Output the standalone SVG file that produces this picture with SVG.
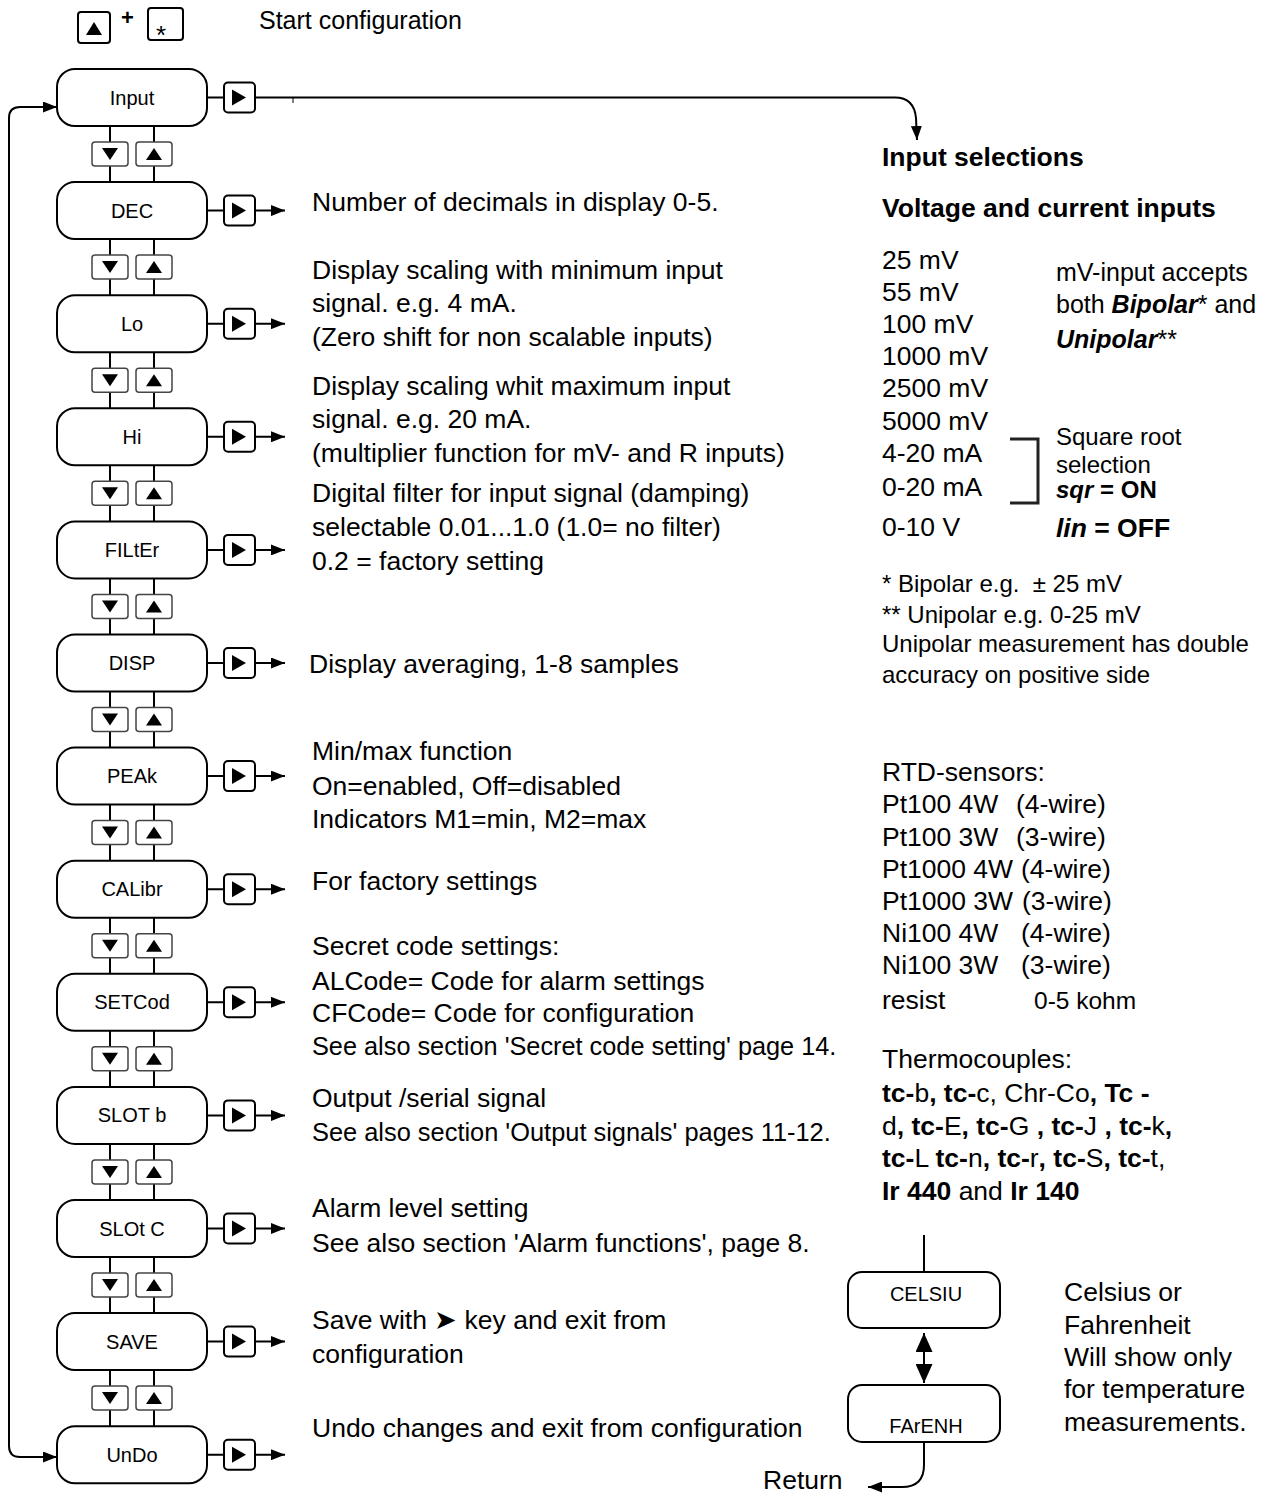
<svg xmlns="http://www.w3.org/2000/svg" xmlns:xlink="http://www.w3.org/1999/xlink" width="1261" height="1493" viewBox="0 0 1261 1493">
<style>
text{font-family:"Liberation Sans",Arial,sans-serif;fill:#000}
.t{font-size:26.5px}
.m{font-size:25px}
.s{font-size:24px}
.h{font-size:26.5px;font-weight:bold}
.n{font-size:20px;text-anchor:middle}
.b{font-weight:bold}
.bi{font-weight:bold;font-style:italic}
.box{fill:#fff;stroke:#000;stroke-width:2}
.ln{fill:none;stroke:#000;stroke-width:2}
.key{fill:#fff;stroke:#444;stroke-width:1.5}
.rk{fill:#fff;stroke:#000;stroke-width:2}
</style>
<defs>
<marker id="ah" markerUnits="userSpaceOnUse" markerWidth="14" markerHeight="11" refX="14" refY="5.5" orient="auto"><path d="M0,0 L14,5.5 L0,11 z" fill="#000"/></marker>
<marker id="ahb" markerUnits="userSpaceOnUse" markerWidth="19" markerHeight="17" refX="19" refY="8.5" orient="auto-start-reverse"><path d="M0,0 L19,8.5 L0,17 z" fill="#000"/></marker>
<g id="kd"><rect class="key" x="-18" y="-12" width="36" height="24" rx="3"/><polygon points="-8,-6 8,-6 0,6" fill="#000"/></g>
<g id="ku"><rect class="key" x="-18" y="-12" width="36" height="24" rx="3"/><polygon points="-8,6 8,6 0,-6" fill="#000"/></g>
<g id="kr"><rect class="rk" x="0" y="-15" width="31" height="30" rx="4"/><polygon points="8,-8 8,8 22,0" fill="#000"/></g>
</defs>

<g id="start">
<rect class="rk" x="78" y="12" width="32" height="31" rx="3"/>
<polygon points="86,35 102,35 94,22" fill="#000"/>
<text x="121" y="25" style="font-size:22px;font-weight:bold">+</text>
<rect class="rk" x="148" y="8" width="35" height="32" rx="3"/>
<text x="156" y="44" style="font-size:26px">*</text>
<text class="m" x="259" y="29">Start configuration</text>
</g>

<g id="connectors">
<line class="ln" x1="110" y1="126" x2="110" y2="1427"/>
<line class="ln" x1="154" y1="126" x2="154" y2="1427"/>
<path class="ln" d="M9 780 V118 Q9 107 20 107 H57" marker-end="url(#ah)"/>
<path class="ln" d="M9 780 V1446 Q9 1457 20 1457 H57" marker-end="url(#ah)"/>
<path class="ln" d="M207 97.5 H224 M255 97.5 H895 Q914 97.5 916 118 L917 140" marker-end="url(#ah)"/>
<line class="ln" x1="293" y1="97" x2="293" y2="103" style="stroke-width:1"/>
<g id="rightarrows">
<path class="ln" d="M207 210.6 H224 M255 210.6 H285" marker-end="url(#ah)"/>
<path class="ln" d="M207 323.7 H224 M255 323.7 H285" marker-end="url(#ah)"/>
<path class="ln" d="M207 436.8 H224 M255 436.8 H285" marker-end="url(#ah)"/>
<path class="ln" d="M207 549.9 H224 M255 549.9 H285" marker-end="url(#ah)"/>
<path class="ln" d="M207 663 H224 M255 663 H285" marker-end="url(#ah)"/>
<path class="ln" d="M207 776.1 H224 M255 776.1 H285" marker-end="url(#ah)"/>
<path class="ln" d="M207 889.2 H224 M255 889.2 H285" marker-end="url(#ah)"/>
<path class="ln" d="M207 1002.3 H224 M255 1002.3 H285" marker-end="url(#ah)"/>
<path class="ln" d="M207 1115.4 H224 M255 1115.4 H285" marker-end="url(#ah)"/>
<path class="ln" d="M207 1228.5 H224 M255 1228.5 H285" marker-end="url(#ah)"/>
<path class="ln" d="M207 1341.6 H224 M255 1341.6 H285" marker-end="url(#ah)"/>
<path class="ln" d="M207 1454.7 H224 M255 1454.7 H285" marker-end="url(#ah)"/>
</g>
<g id="keys">
<use xlink:href="#kr" x="224" y="97.5"/>
<use xlink:href="#kr" x="224" y="210.6"/>
<use xlink:href="#kr" x="224" y="323.7"/>
<use xlink:href="#kr" x="224" y="436.8"/>
<use xlink:href="#kr" x="224" y="549.9"/>
<use xlink:href="#kr" x="224" y="663"/>
<use xlink:href="#kr" x="224" y="776.1"/>
<use xlink:href="#kr" x="224" y="889.2"/>
<use xlink:href="#kr" x="224" y="1002.3"/>
<use xlink:href="#kr" x="224" y="1115.4"/>
<use xlink:href="#kr" x="224" y="1228.5"/>
<use xlink:href="#kr" x="224" y="1341.6"/>
<use xlink:href="#kr" x="224" y="1454.7"/>
<use xlink:href="#kd" x="110" y="154"/><use xlink:href="#ku" x="154" y="154"/>
<use xlink:href="#kd" x="110" y="267.1"/><use xlink:href="#ku" x="154" y="267.1"/>
<use xlink:href="#kd" x="110" y="380.2"/><use xlink:href="#ku" x="154" y="380.2"/>
<use xlink:href="#kd" x="110" y="493.3"/><use xlink:href="#ku" x="154" y="493.3"/>
<use xlink:href="#kd" x="110" y="606.4"/><use xlink:href="#ku" x="154" y="606.4"/>
<use xlink:href="#kd" x="110" y="719.5"/><use xlink:href="#ku" x="154" y="719.5"/>
<use xlink:href="#kd" x="110" y="832.6"/><use xlink:href="#ku" x="154" y="832.6"/>
<use xlink:href="#kd" x="110" y="945.7"/><use xlink:href="#ku" x="154" y="945.7"/>
<use xlink:href="#kd" x="110" y="1058.8"/><use xlink:href="#ku" x="154" y="1058.8"/>
<use xlink:href="#kd" x="110" y="1171.9"/><use xlink:href="#ku" x="154" y="1171.9"/>
<use xlink:href="#kd" x="110" y="1285"/><use xlink:href="#ku" x="154" y="1285"/>
<use xlink:href="#kd" x="110" y="1398.1"/><use xlink:href="#ku" x="154" y="1398.1"/>
</g>
<path class="ln" d="M924 1235 V1272"/>
<line class="ln" x1="924" y1="1333" x2="924" y2="1383" marker-start="url(#ahb)" marker-end="url(#ahb)"/>
<path class="ln" d="M924 1442 V1465 Q924 1487 902 1487 H868" marker-end="url(#ah)"/>
<path d="M1010 439 H1038 V503 H1010" fill="none" stroke="#222" stroke-width="3"/>
</g>

<g id="n-input"><rect class="box" x="57" y="69" width="150" height="57" rx="18"/><text class="n" x="132" y="104.5">Input</text></g>
<g id="n-dec"><rect class="box" x="57" y="182.1" width="150" height="57" rx="18"/><text class="n" x="132" y="217.6">DEC</text></g>
<g id="n-lo"><rect class="box" x="57" y="295.2" width="150" height="57" rx="18"/><text class="n" x="132" y="330.7">Lo</text></g>
<g id="n-hi"><rect class="box" x="57" y="408.3" width="150" height="57" rx="18"/><text class="n" x="132" y="443.8">Hi</text></g>
<g id="n-filter"><rect class="box" x="57" y="521.4" width="150" height="57" rx="18"/><text class="n" x="132" y="556.9">FILtEr</text></g>
<g id="n-disp"><rect class="box" x="57" y="634.5" width="150" height="57" rx="18"/><text class="n" x="132" y="670">DISP</text></g>
<g id="n-peak"><rect class="box" x="57" y="747.6" width="150" height="57" rx="18"/><text class="n" x="132" y="783.1">PEAk</text></g>
<g id="n-calibr"><rect class="box" x="57" y="860.7" width="150" height="57" rx="18"/><text class="n" x="132" y="896.2">CALibr</text></g>
<g id="n-setcod"><rect class="box" x="57" y="973.8" width="150" height="57" rx="18"/><text class="n" x="132" y="1009.3">SETCod</text></g>
<g id="n-slotb"><rect class="box" x="57" y="1086.9" width="150" height="57" rx="18"/><text class="n" x="132" y="1122.4">SLOT b</text></g>
<g id="n-slotc"><rect class="box" x="57" y="1200" width="150" height="57" rx="18"/><text class="n" x="132" y="1235.5">SLOt C</text></g>
<g id="n-save"><rect class="box" x="57" y="1313.1" width="150" height="57" rx="18"/><text class="n" x="132" y="1348.6">SAVE</text></g>
<g id="n-undo"><rect class="box" x="57" y="1426.2" width="150" height="57" rx="18"/><text class="n" x="132" y="1461.7">UnDo</text></g>
<g id="n-celsiu"><rect class="box" x="848" y="1272" width="152" height="56" rx="14"/><text class="n" x="926" y="1301">CELSIU</text></g>
<g id="n-farenh"><rect class="box" x="848" y="1385" width="152" height="57" rx="14"/><text class="n" x="926" y="1433">FArENH</text></g>

<g id="descriptions">
<text class="t" x="312" y="211">Number of decimals in display 0-5.</text>
<text class="t" x="312" y="279">Display scaling with minimum input</text>
<text class="t" x="312" y="312">signal. e.g. 4 mA.</text>
<text class="t" x="312" y="346">(Zero shift for non scalable inputs)</text>
<text class="t" x="312" y="395">Display scaling whit maximum input</text>
<text class="t" x="312" y="428">signal. e.g. 20 mA.</text>
<text class="t" x="312" y="462">(multiplier function for mV- and R inputs)</text>
<text class="t" x="312" y="502">Digital filter for input signal (damping)</text>
<text class="t" x="312" y="536">selectable 0.01...1.0 (1.0= no filter)</text>
<text class="t" x="312" y="570">0.2 = factory setting</text>
<text class="t" x="309" y="673">Display averaging, 1-8 samples</text>
<text class="t" x="312" y="760">Min/max function</text>
<text class="t" x="312" y="795">On=enabled, Off=disabled</text>
<text class="t" x="312" y="828">Indicators M1=min, M2=max</text>
<text class="t" x="312" y="890">For factory settings</text>
<text class="t" x="312" y="955">Secret code settings:</text>
<text class="t" x="312" y="990">ALCode= Code for alarm settings</text>
<text class="t" x="312" y="1022">CFCode= Code for configuration</text>
<text x="312" y="1055" style="font-size:25.3px">See also section 'Secret code setting' page 14.</text>
<text class="t" x="312" y="1107">Output /serial signal</text>
<text x="312" y="1141" style="font-size:25.4px">See also section 'Output signals' pages 11-12.</text>
<text class="t" x="312" y="1217">Alarm level setting</text>
<text class="t" x="312" y="1252">See also section 'Alarm functions', page 8.</text>
<text class="t" x="312" y="1329">Save with ➤ key and exit from</text>
<text class="t" x="312" y="1363">configuration</text>
<text class="t" x="312" y="1437">Undo changes and exit from configuration</text>
</g>

<g id="inputs">
<text class="h" x="882" y="166">Input selections</text>
<text class="h" x="882" y="217">Voltage and current inputs</text>
<text class="t" x="882" y="269">25 mV</text>
<text class="t" x="882" y="301">55 mV</text>
<text class="t" x="882" y="333">100 mV</text>
<text class="t" x="882" y="365">1000 mV</text>
<text class="t" x="882" y="397">2500 mV</text>
<text class="t" x="882" y="430">5000 mV</text>
<text class="t" x="882" y="462">4-20 mA</text>
<text class="t" x="882" y="496">0-20 mA</text>
<text class="t" x="882" y="536">0-10 V</text>
<text class="m" x="1056" y="281">mV-input accepts</text>
<text class="m" x="1056" y="313">both <tspan class="bi">Bipolar</tspan>* and</text>
<text class="m" x="1056" y="348"><tspan class="bi">Unipolar</tspan>**</text>
<text class="s" x="1056" y="445">Square root</text>
<text class="s" x="1056" y="473">selection</text>
<text class="s b" x="1056" y="498"><tspan class="bi">sqr</tspan> = ON</text>
<text class="t b" x="1056" y="537"><tspan class="bi">lin</tspan> = OFF</text>
<text class="s" x="882" y="592" style="white-space:pre">* Bipolar e.g.  ± 25 mV</text>
<text class="s" x="882" y="623">** Unipolar e.g. 0-25 mV</text>
<text class="s" x="882" y="652">Unipolar measurement has double</text>
<text class="s" x="882" y="683">accuracy on positive side</text>
<text class="t" x="882" y="781">RTD-sensors:</text>
<text class="t" x="882" y="813">Pt100 4W</text><text class="t" x="1016" y="813">(4-wire)</text>
<text class="t" x="882" y="846">Pt100 3W</text><text class="t" x="1016" y="846">(3-wire)</text>
<text class="t" x="882" y="878">Pt1000 4W</text><text class="t" x="1021" y="878">(4-wire)</text>
<text class="t" x="882" y="910">Pt1000 3W</text><text class="t" x="1022" y="910">(3-wire)</text>
<text class="t" x="882" y="942">Ni100 4W</text><text class="t" x="1021" y="942">(4-wire)</text>
<text class="t" x="882" y="974">Ni100 3W</text><text class="t" x="1021" y="974">(3-wire)</text>
<text class="t" x="882" y="1009">resist</text><text x="1034" y="1009" style="font-size:24.5px">0-5 kohm</text>
<text class="t" x="882" y="1068">Thermocouples:</text>
<text class="t" x="882" y="1102"><tspan class="b">tc-</tspan>b<tspan class="b">, tc-</tspan>c, Chr-Co<tspan class="b">, Tc -</tspan></text>
<text class="t" x="882" y="1135">d<tspan class="b">, tc-</tspan>E<tspan class="b">, tc-</tspan>G <tspan class="b">, tc-</tspan>J <tspan class="b">, tc-</tspan>k<tspan class="b">,</tspan></text>
<text class="t" x="882" y="1167"><tspan class="b">tc-</tspan>L <tspan class="b">tc-</tspan>n<tspan class="b">, tc-</tspan>r<tspan class="b">, tc-</tspan>S<tspan class="b">, tc-</tspan>t,</text>
<text class="t" x="882" y="1200"><tspan class="b">Ir 440</tspan> and <tspan class="b">Ir 140</tspan></text>
<text class="t" x="1064" y="1301">Celsius or</text>
<text class="t" x="1064" y="1334">Fahrenheit</text>
<text class="t" x="1064" y="1366">Will show only</text>
<text class="t" x="1064" y="1398">for temperature</text>
<text class="t" x="1064" y="1431">measurements.</text>
<text class="t" x="763" y="1489">Return</text>
</g>
</svg>
